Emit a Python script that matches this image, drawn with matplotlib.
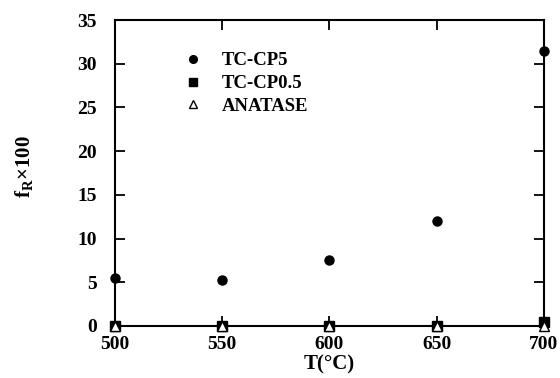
import matplotlib
matplotlib.use("Agg")
import matplotlib.pyplot as plt

plt.rcParams['font.family'] = ['Liberation Serif', 'DejaVu Serif']
plt.rcParams['font.weight'] = 'bold'
plt.rcParams['mathtext.fontset'] = 'custom'
plt.rcParams['mathtext.rm'] = 'Liberation Serif:bold'
plt.rcParams['mathtext.bf'] = 'Liberation Serif:bold'

temps = [500, 550, 600, 650, 700]
tc_cp5 = [5.5, 5.3, 7.6, 12.0, 31.5]
tc_cp05 = [0.0, 0.0, 0.0, 0.0, 0.4]
anatase = [0.0, 0.0, 0.0, 0.0, 0.0]
xticks = [500, 550, 600, 650, 700]
yticks = [0, 5, 10, 15, 20, 25, 30, 35]

fig = plt.figure(figsize=(5.6, 3.78), dpi=100)
ax = fig.add_axes([0.2054, 0.1376, 0.7656, 0.8094])

ax.plot(temps, tc_cp5, 'o', color='black', markersize=6.5, clip_on=False, label='TC-CP5', zorder=3)
ax.plot(temps, tc_cp05, 's', color='black', markersize=6.5, clip_on=False, label='TC-CP0.5', zorder=3)
ax.plot(temps, anatase, '^', markerfacecolor='white', markeredgecolor='black', markersize=6.5,
        markeredgewidth=1.0, clip_on=False, label='ANATASE', zorder=4)

ax.set_xlim(500, 700)
ax.set_ylim(0, 35)
ax.set_xticks(xticks)
ax.set_yticks(yticks)
ax.tick_params(direction='in', top=True, right=True, length=7, width=1.3, labelsize=14)
ax.tick_params(axis='x', pad=7)
ax.tick_params(axis='y', pad=13)
for lab in ax.get_xticklabels() + ax.get_yticklabels():
    lab.set_fontweight('bold')
for s in ax.spines.values():
    s.set_linewidth(1.5)

ax.set_xlabel('T(°C)', fontsize=15, fontweight='bold', labelpad=1)
fig.text(0.045, 0.56, r'f$_{\mathregular{R}}$×100', rotation=90, fontsize=15,
         fontweight='bold', ha='center', va='center')

leg = ax.legend(loc='upper left', bbox_to_anchor=(0.11, 0.95), frameon=False,
                handletextpad=0.8, labelspacing=0.3, markerscale=0.85, handlelength=1.5,
                prop={'weight': 'bold', 'size': 13.5})

fig.savefig('out.png', dpi=100)
